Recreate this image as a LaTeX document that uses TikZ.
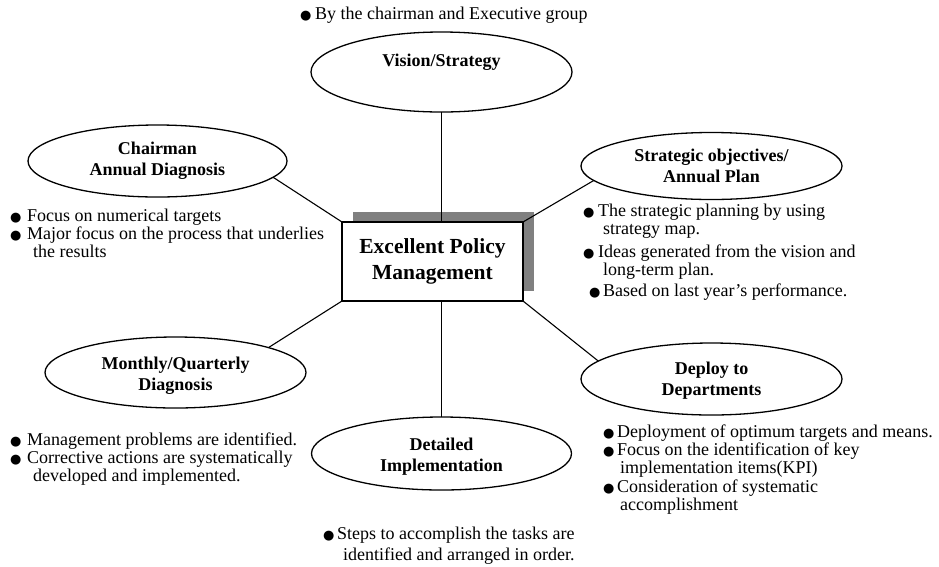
\documentclass[tikz,border=0pt]{standalone}
\usepackage{fontspec}
\setmainfont{Liberation Serif}
\newfontfamily\symfont{DejaVu Sans}
\usetikzlibrary{shapes.geometric}
\definecolor{shadowgray}{RGB}{128,128,128}
\newcommand\bul[1]{\makebox[#1][l]{\symfont\fontsize{13}{13}\selectfont ●}}
\begin{document}
\begin{tikzpicture}[x=1pt,y=-1pt,
  oval/.style={ellipse, draw, line width=1.3pt, inner sep=0pt, outer sep=0pt, fill=white},
  lbl/.style={font=\fontsize{18}{21}\selectfont\bfseries, align=center, inner sep=0pt},
  txt/.style={font=\fontsize{18}{18}\selectfont, anchor=base west, inner sep=0pt},
  link/.style={line width=1.1pt},
  boxsize/.style={rectangle, minimum width=181pt, minimum height=79pt, inner sep=0pt, outer sep=0pt},
  mainbox/.style={boxsize, draw, line width=1.4pt, fill=white, align=center, font=\fontsize{21.5}{26}\selectfont\bfseries},
  shadowbox/.style={boxsize, fill=shadowgray}
]
\useasboundingbox (0,0) rectangle (939,566);

% top note
\node[txt] (topt) at (300,19) {\bul{15pt}By the chairman and Executive group};

% central box with shadow
\node[shadowbox] (boxshadow) at (443.5,251.5) {};
\node[mainbox] (box) at (432.5,261.5) {Excellent Policy\\Management};

% ellipses
\node[oval, minimum width=261pt, minimum height=80pt] (vis) at (441.5,72) {};
\node[lbl] (visl) at (441.5,62) {Vision/Strategy};

\node[oval, minimum width=259pt, minimum height=72pt] (chair) at (157.5,161) {};
\node[lbl] (chairl) at (157.5,161) {Chairman\\Annual Diagnosis};

\node[oval, minimum width=261pt, minimum height=67pt] (strat) at (711.5,166) {};
\node[lbl] (stratl) at (711.5,166) {Strategic objectives/\\Annual Plan};

\node[oval, minimum width=261pt, minimum height=71pt] (month) at (175.5,372.5) {};
\node[lbl] (monthl) at (175.5,376) {Monthly/Quarterly\\Diagnosis};

\node[oval, minimum width=260pt, minimum height=73pt] (det) at (441.5,453.5) {};
\node[lbl] (detl) at (441.5,457) {Detailed\\Implementation};

\node[oval, minimum width=261pt, minimum height=72pt] (dep) at (711.5,379) {};
\node[lbl] (depl) at (711.5,381) {Deploy to\\Departments};

% connectors
\draw[link] (vis.south) -- (vis.south |- box.north);
\draw[link] (det.north) -- (det.north |- box.south);
\draw[link] (box.north west) -- (chair.-8);
\draw[link] (box.north east) -- (strat.187.5);
\draw[link] (box.south west) -- (month.15.6);
\draw[link] (box.south east) -- (dep.171.7);

% chairman notes
\node[txt] (c1) at (10,221) {\bul{17pt}Focus on numerical targets};
\node[txt] (c2) at (10,239) {\bul{17pt}Major focus on the process that underlies};
\node[txt] (c3) at (33,257) {the results};

% strategic notes
\node[txt] (s1) at (583,216) {\bul{15pt}The strategic planning by using};
\node[txt] (s2) at (603,234) {strategy map.};
\node[txt] (s3) at (583,257) {\bul{15pt}Ideas generated from the vision and};
\node[txt] (s4) at (603,275) {long-term plan.};
\node[txt] (s5) at (589,296) {\bul{14pt}Based on last year’s performance.};

% monthly notes
\node[txt] (m1) at (10,445) {\bul{17pt}Management problems are identified.};
\node[txt] (m2) at (10,463) {\bul{17pt}Corrective actions are systematically};
\node[txt] (m3) at (33,481) {developed and implemented.};

% detailed notes
\node[txt] (d1) at (323,539) {\bul{14pt}Steps to accomplish the tasks are};
\node[txt] (d2) at (343,560) {identified and arranged in order.};

% deploy notes
\node[txt] (p1) at (603,437) {\bul{14pt}Deployment of optimum targets and means.};
\node[txt] (p2) at (603,455) {\bul{14pt}Focus on the identification of key};
\node[txt] (p3) at (620,473) {implementation items(KPI)};
\node[txt] (p4) at (603,492) {\bul{14pt}Consideration of systematic};
\node[txt] (p5) at (620,510) {accomplishment};
\end{tikzpicture}
\end{document}
